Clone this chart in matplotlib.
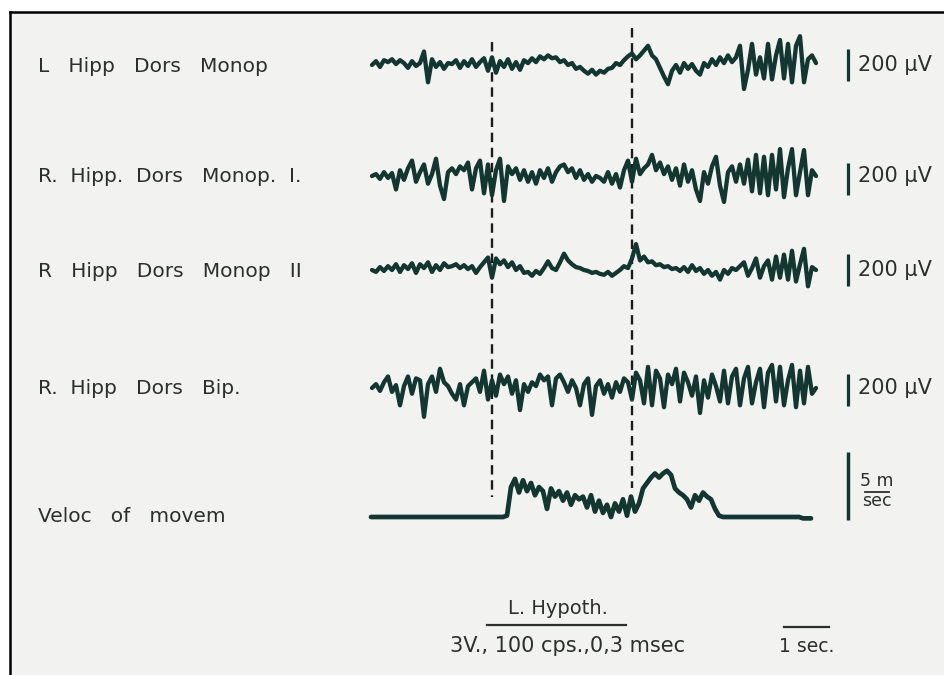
import numpy as np
import matplotlib.pyplot as plt
from matplotlib.lines import Line2D

# ======================
# 1. Values
# ======================
W, H = 944, 675            # output size in px
DT = 4 / 45                # s between read-off samples
PX_PER_SEC = 45            # time scale of the record (1 sec bar)
PX_PER_UV = 32 / 200       # 200 uV calibration bar
PX_PER_MS = 68 / 5         # 5 m/sec calibration bar

LABELS = ["L   Hipp   Dors   Monop",
          "R.  Hipp.  Dors   Monop.  I.",
          "R   Hipp   Dors   Monop   II",
          "R.  Hipp   Dors   Bip.",
          "Veloc   of   movem"]

# EEG deflections in uV (up = positive)
L_HIPP_MONOP = [0, 24, -12, 30, 18, 36, 6, 30, 12, -18, 24, -6, 12, 84, -108, 36, -12, 18, -24, 12,
                6, 30, -18, 24, -6, 36, -12, 18, 42, -36, 48, -48, 24, -12, 36, -24, 18, -30, 30, 12,
                42, 18, 54, 36, 60, 42, 48, 18, 30, 0, 12, -24, -12, -36, -54, -30, -60, -36, -48, -24,
                -18, 12, 0, 30, 54, 72, 36, 60, 90, 120, 60, 36, -18, -72, -120, -36, 0, -48, 12, -24,
                6, -36, -60, 12, -12, 36, 0, 48, 12, 60, 18, 48, 120, -150, -30, 132, -60, 48, -84, 132,
                -90, 60, 156, -84, 132, -108, 120, 180, -108, 36, 60, 12]
R_HIPP_MONOP_I = [0, 12, -18, 24, -12, 18, -84, 36, -24, 48, 96, -36, 24, 72, -48, 12, 108, -60, -144, 24,
                  48, 12, 60, 36, 84, -84, 48, 96, -108, 72, -120, 36, 108, -156, 60, 12, 48, -24, 36, -36,
                  24, -48, 36, -12, 48, -36, 24, 60, 72, 24, 48, -12, 36, -24, 12, -36, 0, -12, -36, 24,
                  -48, 12, -72, 36, 96, -36, 108, 12, 48, 72, 132, 36, 84, 12, 60, -24, 48, -60, 72, -36,
                  36, -84, -156, 24, -48, 60, 120, -60, -162, 24, 60, -36, 72, -48, 102, -96, 132, -108, 120, -120,
                  132, -84, 168, -132, 48, 168, -120, 24, 162, -120, 36, 0]
R_HIPP_MONOP_II = [0, -12, 18, -6, 24, 0, 36, -12, 30, 6, 42, -18, 36, 12, 48, -12, 30, 0, 42, 18,
                   24, 36, 12, 30, 6, 24, -18, 18, 48, 78, -48, 72, 36, 60, 18, 48, 0, 24, -18, -12,
                   -36, -6, -24, 12, 54, 12, 0, 48, 102, 60, 36, 18, 12, 0, -6, -18, -12, -24, -30, -12,
                   -36, -18, 0, 24, 12, 72, 162, 60, 84, 48, 54, 30, 36, 18, 24, 6, 12, -6, 18, -12,
                   30, -6, 12, -24, 0, -36, -12, -60, 0, -24, 12, 0, 24, 48, -36, 12, 72, -48, 24, 60,
                   -60, 84, -48, 96, -60, 120, -72, 36, 132, -102, 18, 0]
R_HIPP_BIP = [0, 24, -18, 36, 72, -24, 18, -108, 12, 72, -36, 60, 48, -180, 24, 72, -24, 120, 36, 12,
              -36, -72, 24, -108, 12, 36, 60, -24, 108, -72, 48, -48, 84, 24, 72, -36, 48, -138, 24, -24,
              36, 12, 84, 48, 72, -108, 60, 84, 36, -24, 48, 0, -108, 24, 60, -168, 12, 48, -36, 24,
              -60, 36, -24, 60, 36, -72, 96, 48, -96, 132, -108, 108, 60, -120, 84, 24, 120, -84, 96, 36,
              -48, 72, -156, 48, -60, 84, 12, -84, 108, -96, 72, 120, -108, 60, 132, -96, 36, 120, -120, 96,
              144, -84, 132, -108, 48, 144, -120, 108, -96, 132, -36, 0]

# velocity of movement in m/sec
VELOCITY = [0.0] * 34 + [
    0.1, 2.2, 2.8, 1.8, 2.7, 1.9, 2.5, 1.6, 2.2, 1.9, 0.6, 2.1, 1.5, 1.9, 1.2, 1.8, 0.9, 1.6, 1.3, 1.5,
    0.7, 1.6, 0.4, 1.2, 0.3, 0.9, 0.0, 1.0, 0.4, 1.3, 0.1, 1.5, 0.4, 1.0, 2.1, 2.5, 2.9, 3.2, 2.9, 3.2,
    3.4, 3.1, 2.1, 1.8, 1.6, 1.3, 0.7, 1.6, 1.2, 1.8, 1.5, 1.3, 0.6, 0.1] + [0.0] * 20 + [-0.1] * 3

EEG = [L_HIPP_MONOP, R_HIPP_MONOP_I, R_HIPP_MONOP_II, R_HIPP_BIP]
EEG_BASE = [65, 176, 270, 388]          # px from top
EEG_BAR = [(-100, 100), (-120, 80), (-100, 100), (-110, 90)]
VEL_BASE = 517
STIM_ON, STIM_OFF = 2.67, 5.78          # s, L. Hypoth. stimulation

X0 = 372                                 # px of t = 0
INK = '#133630'
TXT = '#2b2f2d'
PAPER = '#f2f3f1'

T_LIM = (-X0 / PX_PER_SEC, (W - X0) / PX_PER_SEC)


def px_axes(fig, top, bottom):
    """Axes across the full width, between two px rows (from top)."""
    ax = fig.add_axes([0, 1 - bottom / H, 1, (bottom - top) / H])
    ax.set_xlim(*T_LIM)
    ax.axis('off')
    ax.patch.set_visible(False)
    return ax


fig = plt.figure(figsize=(W / 100, H / 100), dpi=100)
fig.patch.set_facecolor('white')

# paper + frame
bg = fig.add_axes([0, 0, 1, 1])
bg.set_xlim(*T_LIM)
bg.set_ylim(H, 0)
bg.axis('off')
bg.add_patch(plt.Rectangle((T_LIM[0] + 10 / PX_PER_SEC, 12), 50, H, color=PAPER, zorder=0))
fig.add_artist(Line2D([10 / W, 10 / W], [0, 1 - 12 / H], color='black', lw=1.8))
fig.add_artist(Line2D([10 / W, 1], [1 - 12 / H, 1 - 12 / H], color='black', lw=1.8))

# stimulation markers
dash = (0, (4.0, 2.4))
bg.plot([STIM_ON, STIM_ON], [42, 497], color='#1c1c1c', lw=1.7, ls=dash, zorder=1)
bg.plot([STIM_OFF, STIM_OFF], [28, 488], color='#1c1c1c', lw=1.7, ls=dash, zorder=1)

# EEG channels
t_bar = (848 - X0) / PX_PER_SEC
for i, vals in enumerate(EEG):
    half = 60 / PX_PER_UV
    ax = px_axes(fig, EEG_BASE[i] - 60, EEG_BASE[i] + 60)
    ax.set_ylim(-half, half)
    t = np.arange(len(vals)) * DT
    ax.plot(t, vals, color=INK, lw=3.1, solid_joinstyle='round', solid_capstyle='round', zorder=3)
    ax.plot([t_bar, t_bar], EEG_BAR[i], color=INK, lw=2.3, solid_capstyle='butt')
    ax.text(t_bar + 0.22, 0, '200 µV', color=TXT, fontsize=15, va='center', ha='left')
    fig.text(38 / W, 1 - (EEG_BASE[i] + 1) / H, LABELS[i], color=TXT, fontsize=14.5,
             va='center', ha='left')

# velocity channel
ax = px_axes(fig, VEL_BASE - 80, VEL_BASE + 14)
ax.set_ylim(-14 / PX_PER_MS, 80 / PX_PER_MS)
t = -1 / PX_PER_SEC + np.arange(len(VELOCITY)) * DT
ax.plot(t, VELOCITY, color=INK, lw=3.4, solid_joinstyle='round', solid_capstyle='round', zorder=3)
ax.plot([t_bar, t_bar], [-0.2, 4.8], color=INK, lw=2.5, solid_capstyle='butt')
bg.text((877 - X0) / PX_PER_SEC, 481, '5 m', color=TXT, fontsize=12.5, ha='center', va='center')
bg.plot([(865 - X0) / PX_PER_SEC, (889 - X0) / PX_PER_SEC], [492, 492], color=TXT, lw=1.3)
bg.text((877 - X0) / PX_PER_SEC, 501, 'sec', color=TXT, fontsize=12.5, ha='center', va='center')
fig.text(38 / W, 1 - VEL_BASE / H, LABELS[4], color=TXT, fontsize=14.5, va='center', ha='left')

# stimulus annotation and time bar
bg.text((STIM_ON + STIM_OFF) / 2 - 0.1, 608, 'L. Hypoth.', color=TXT, fontsize=14,
        ha='center', va='center')
bg.plot([STIM_ON - 0.11, STIM_OFF - 0.13], [625, 625], color=TXT, lw=1.6)
bg.text((568 - X0) / PX_PER_SEC, 646, '3V., 100 cps.,0,3 msec', color=TXT, fontsize=15,
        ha='center', va='center')
t_sec = (784 - X0) / PX_PER_SEC
bg.plot([t_sec, t_sec + 1], [627, 627], color=TXT, lw=1.6)
bg.text(t_sec + 0.5, 646, '1 sec.', color=TXT, fontsize=13.5, ha='center', va='center')

fig.savefig('out.png', dpi=100, facecolor=fig.get_facecolor())
